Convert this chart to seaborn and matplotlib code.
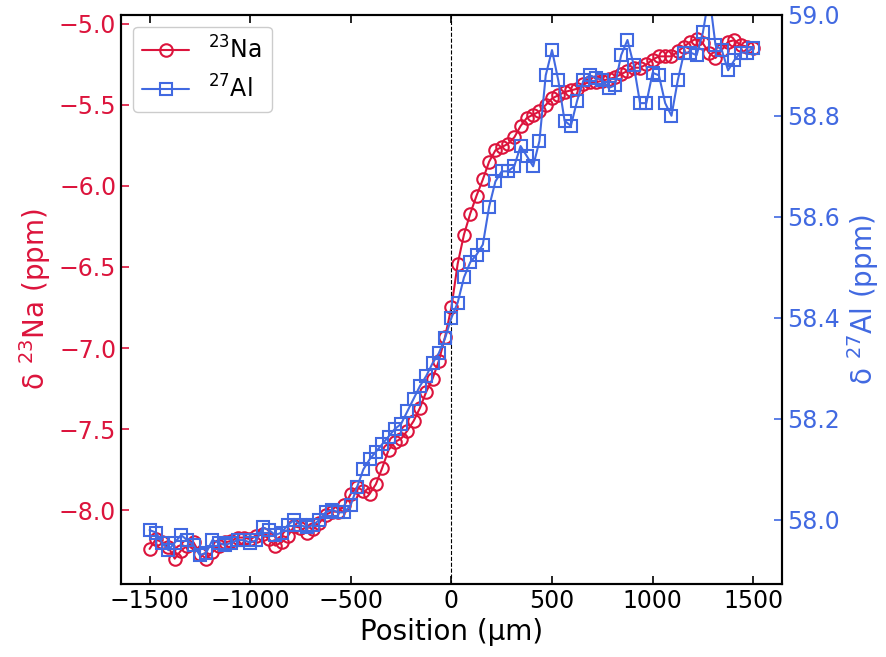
import numpy as np
import pandas as pd
import matplotlib
matplotlib.use("Agg")
import matplotlib.pyplot as plt
import seaborn as sns

# positions (µm), same grid for both nuclei
position = np.linspace(-1500, 1500, 97)

na_shift = [
    -8.24, -8.18, -8.20, -8.23, -8.30, -8.25, -8.22, -8.20, -8.27, -8.30,
    -8.26, -8.22, -8.20, -8.19, -8.17, -8.17, -8.18, -8.16, -8.15, -8.18,
    -8.22, -8.20, -8.16, -8.10, -8.11, -8.14, -8.12, -8.08, -8.03, -8.01,
    -8.01, -7.97, -7.90, -7.86, -7.88, -7.90, -7.84, -7.74, -7.63, -7.58,
    -7.56, -7.51, -7.45, -7.37, -7.27, -7.19, -7.08, -6.93, -6.75, -6.48,
    -6.30, -6.17, -6.06, -5.96, -5.85, -5.78, -5.76, -5.74, -5.70, -5.63,
    -5.58, -5.56, -5.54, -5.50, -5.46, -5.44, -5.42, -5.41, -5.40, -5.37,
    -5.36, -5.36, -5.35, -5.34, -5.33, -5.31, -5.29, -5.27, -5.27, -5.25,
    -5.22, -5.20, -5.20, -5.20, -5.17, -5.14, -5.11, -5.09, -5.12, -5.18,
    -5.21, -5.16, -5.11, -5.10, -5.13, -5.14, -5.15,
]

al_shift = [
    57.980, 57.975, 57.955, 57.940, 57.955, 57.970, 57.960, 57.950, 57.930, 57.935,
    57.960, 57.955, 57.950, 57.955, 57.960, 57.960, 57.955, 57.960, 57.985, 57.980,
    57.970, 57.975, 57.990, 58.000, 57.990, 57.985, 57.990, 58.000, 58.015, 58.020,
    58.015, 58.015, 58.030, 58.065, 58.100, 58.120, 58.135, 58.150, 58.165, 58.180,
    58.190, 58.215, 58.240, 58.265, 58.285, 58.310, 58.330, 58.360, 58.400, 58.430,
    58.480, 58.510, 58.525, 58.545, 58.620, 58.670, 58.690, 58.690, 58.700, 58.740,
    58.720, 58.700, 58.750, 58.880, 58.930, 58.870, 58.790, 58.780, 58.830, 58.870,
    58.880, 58.875, 58.870, 58.855, 58.860, 58.920, 58.950, 58.900, 58.825, 58.825,
    58.885, 58.880, 58.825, 58.800, 58.870, 58.925, 58.925, 58.920, 58.965, 59.040,
    58.940, 58.930, 58.890, 58.910, 58.925, 58.925, 58.935,
]

na_color = "crimson"
al_color = "royalblue"

df = pd.DataFrame({"pos": position, "na": na_shift, "al": al_shift})

sns.set_style("ticks", {"xtick.direction": "in", "ytick.direction": "in"})
plt.rcParams["font.family"] = ["DejaVu Sans"]
plt.rcParams["axes.linewidth"] = 1.5
plt.rcParams["text.color"] = "black"
plt.rcParams["axes.labelcolor"] = "black"
plt.rcParams["xtick.color"] = "black"
plt.rcParams["ytick.color"] = "black"

fig = plt.figure(figsize=(8.87, 6.57), dpi=100)
ax = fig.add_axes([0.1364, 0.111, 0.745, 0.8666])
ax2 = ax.twinx()

sns.lineplot(data=df, x="pos", y="na", ax=ax, color=na_color, marker="o",
             markersize=9, markerfacecolor="none", markeredgecolor=na_color,
             markeredgewidth=1.5, linewidth=1.5, label="$^{23}$Na", legend=False)
sns.lineplot(data=df, x="pos", y="al", ax=ax2, color=al_color, marker="s",
             markersize=9, markerfacecolor="none", markeredgecolor=al_color,
             markeredgewidth=1.5, linewidth=1.5, label="$^{27}$Al", legend=False)

ax.axvline(0, color="black", linestyle="--", linewidth=0.8)

ax.set_xlim(-1642, 1642)
ax.set_ylim(-8.457, -4.943)
ax2.set_ylim(57.873, 59.0)
ax.set_yticks([-8.0, -7.5, -7.0, -6.5, -6.0, -5.5, -5.0])
ax2.set_yticks([58.0, 58.2, 58.4, 58.6, 58.8, 59.0])
ax.set_xticks([-1500, -1000, -500, 0, 500, 1000, 1500])

ax.set_xlabel("Position (µm)", fontsize=20, color="black")
ax.set_ylabel("δ $^{23}$Na (ppm)", fontsize=20, color=na_color)
ax2.set_ylabel("δ $^{27}$Al (ppm)", fontsize=20, color=al_color)

ax.tick_params(axis="x", direction="in", top=True, labelsize=17, length=6, width=1.2,
               colors="black")
ax.tick_params(axis="y", direction="in", colors=na_color, labelsize=17, length=6, width=1.2)
ax2.tick_params(axis="y", direction="in", colors=al_color, labelsize=17, length=6, width=1.2)
for a in (ax, ax2):
    for s in a.spines.values():
        s.set_color("black")
        s.set_linewidth(1.5)

h1, l1 = ax.get_legend_handles_labels()
h2, l2 = ax2.get_legend_handles_labels()
ax.legend(h1 + h2, l1 + l2, loc="upper left", fontsize=17, frameon=True,
          fancybox=True, edgecolor="0.8", framealpha=1)

fig.savefig("out.png", dpi=100)
